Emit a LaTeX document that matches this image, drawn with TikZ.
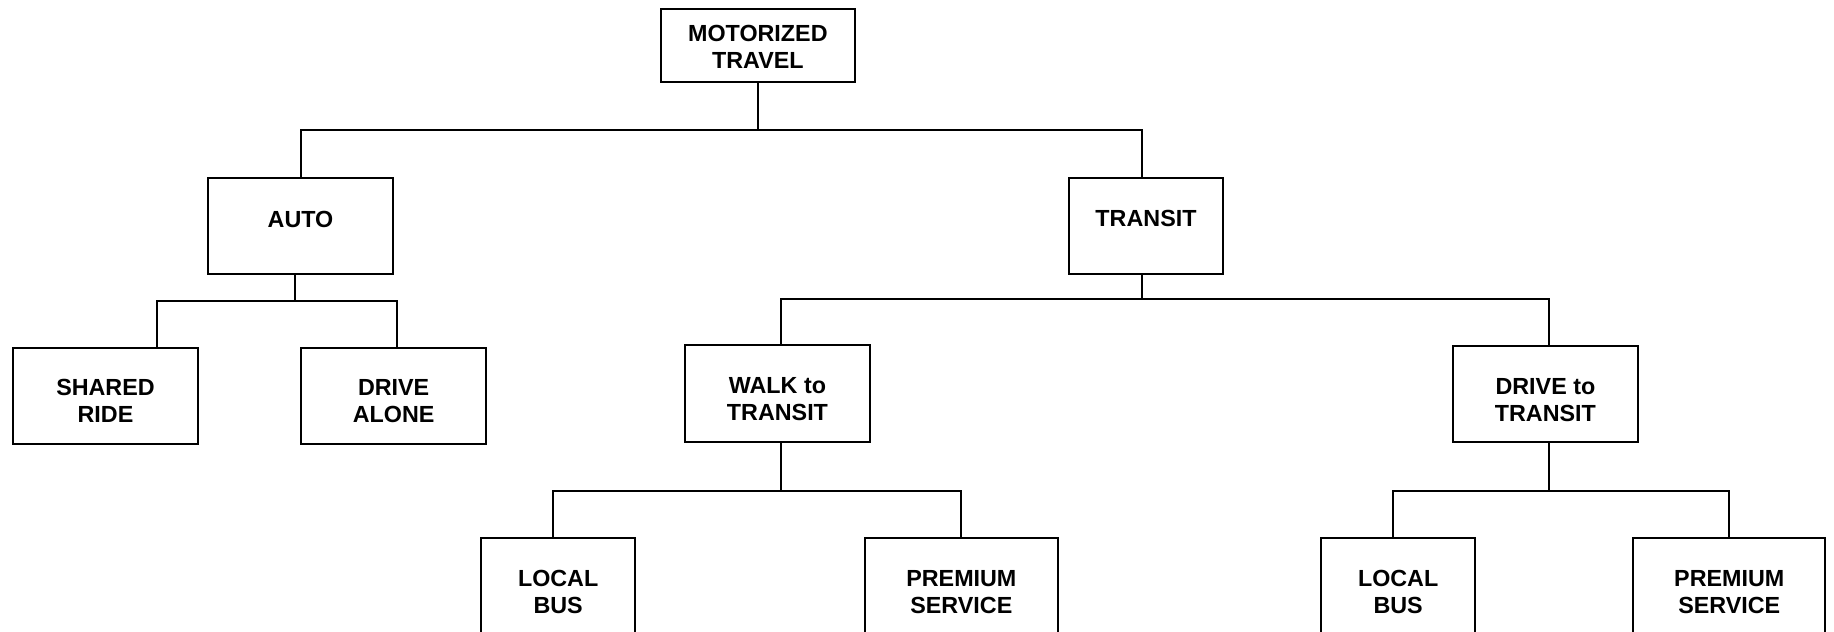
\documentclass[tikz,border=0pt]{standalone}
\usepackage{fontspec}
\setmainfont{Liberation Sans}
\usetikzlibrary{calc}
\begin{document}
\begin{tikzpicture}[x=0.5pt,y=-0.5pt,
  box/.style={draw, line width=1pt, rectangle, anchor=north west, inner sep=0pt, minimum height=48pt},
  lbl/.style={anchor=north, inner sep=0pt, align=center, font=\fontsize{11.66}{13.35}\selectfont\bfseries},
  conn/.style={line width=1pt}]
\useasboundingbox (0,0) rectangle (1834,631);
% boxes
\node[box, minimum width=97.15pt, minimum height=36.2pt] (motor) at (659.7,8.3) {};
\node[box, minimum width=92.8pt] (auto) at (206.7,176.7) {};
\node[box, minimum width=77pt] (transit) at (1068,176.7) {};
\node[box, minimum width=92.8pt] (shared) at (11.7,347.3) {};
\node[box, minimum width=92.65pt] (alone) at (300,347.3) {};
\node[box, minimum width=92.45pt, minimum height=48.35pt] (walk) at (684,344.3) {};
\node[box, minimum width=92.8pt] (dtt) at (1451.6,345) {};
\node[box, minimum width=76.85pt] (local1) at (480.3,536.7) {};
\node[box, minimum width=96.15pt] (prem1) at (864.2,536.7) {};
\node[box, minimum width=76.85pt] (local2) at (1320.3,536.7) {};
\node[box, minimum width=96.05pt] (prem2) at (1632.2,536.7) {};
% labels
\node[lbl] (motort) at ($(motor.north)+(0,16.7)$) {MOTORIZED\\TRAVEL};
\node[lbl] (autot) at ($(auto.north)+(0,34)$) {AUTO};
\node[lbl] (transitt) at ($(transit.north)+(0,33.3)$) {TRANSIT};
\node[lbl] (sharedt) at ($(shared.north)+(0,32)$) {SHARED\\RIDE};
\node[lbl] (alonet) at ($(alone.north)+(0,32)$) {DRIVE\\ALONE};
\node[lbl] (walkt) at ($(walk.north)+(0,33)$) {WALK to\\TRANSIT};
\node[lbl] (dttt) at ($(dtt.north)+(0,33)$) {DRIVE to\\TRANSIT};
\node[lbl] (local1t) at ($(local1.north)+(0,33.5)$) {LOCAL\\BUS};
\node[lbl] (prem1t) at ($(prem1.north)+(0,33.5)$) {PREMIUM\\SERVICE};
\node[lbl] (local2t) at ($(local2.north)+(0,33.5)$) {LOCAL\\BUS};
\node[lbl] (prem2t) at ($(prem2.north)+(0,33.5)$) {PREMIUM\\SERVICE};
% connectors
\draw[conn] (motor.south) -- ++(0,47.6) coordinate (m1);
\draw[conn] (auto.north) |- (m1) -| ([xshift=-2.25pt]transit.north);
\draw[conn] ([xshift=-2.6pt]auto.south) -- ++(0,26.3) coordinate (a1);
\draw[conn] ([xshift=25.75pt]shared.north) |- (a1) -| ([xshift=1.675pt]alone.north);
\draw[conn] ([xshift=-2.25pt]transit.south) -- ++(0,24) coordinate (t1);
\draw[conn] ([xshift=1.78pt]walk.north) |- (t1) -| ([xshift=1.8pt]dtt.north);
\draw[conn] ([xshift=1.78pt]walk.south) -- ++(0,47.7) coordinate (w1);
\draw[conn] ([xshift=-2.375pt]local1.north) |- (w1) -| (prem1.north);
\draw[conn] ([xshift=1.8pt]dtt.south) -- ++(0,47.7) coordinate (d1);
\draw[conn] ([xshift=-2.375pt]local2.north) |- (d1) -| (prem2.north);
\end{tikzpicture}
\end{document}
